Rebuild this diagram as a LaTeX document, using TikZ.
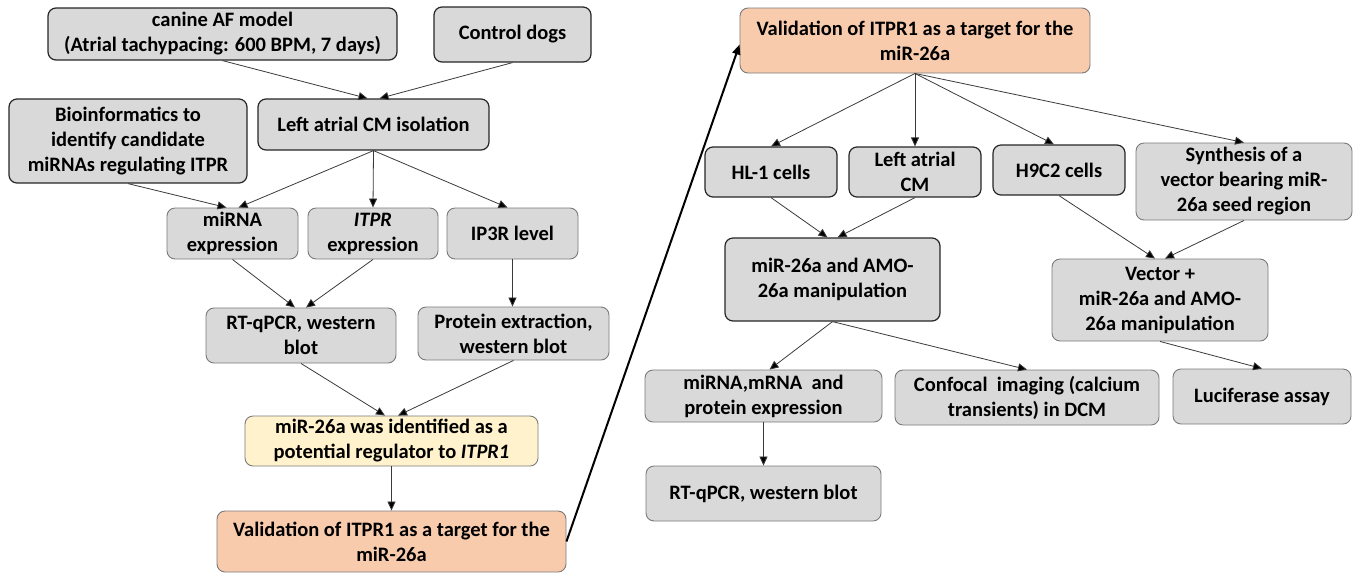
\documentclass[tikz,border=0pt]{standalone}
\usepackage{fontspec}
\setmainfont{Carlito}
\usetikzlibrary{arrows.meta}
\definecolor{boxgray}{HTML}{D9D9D9}
\definecolor{boxyellow}{HTML}{FFF2CC}
\definecolor{boxorange}{HTML}{F8CBAD}
\definecolor{darkedge}{HTML}{262626}
\definecolor{lightedge}{HTML}{7A7A7A}
\definecolor{linecol}{HTML}{3A3A3A}
\tikzset{
  box/.style={draw=lightedge, line width=0.9pt, fill=boxgray, rounded corners=8pt,
    align=center, inner sep=0pt, font=\fontsize{20.5}{25}\selectfont\bfseries},
  darkbox/.style={box, draw=darkedge, line width=1.2pt},
  yellowbox/.style={box, fill=boxyellow},
  orangebox/.style={box, fill=boxorange},
  conn/.style={draw=linecol, line width=0.8pt, -{Triangle[length=9pt,width=8pt,fill=black]}},
  bigconn/.style={draw=black, line width=2pt, -{Triangle[length=10pt,width=8pt]}},
}
\begin{document}
\begin{tikzpicture}[x=1pt,y=1pt]
\useasboundingbox (0,0) rectangle (1362,-574);
% left side
\node[darkbox, minimum width=349pt, minimum height=52pt] (canine) at (222.5,-34) {canine AF model\\(Atrial tachypacing: 600 BPM, 7 days)};
\node[darkbox, minimum width=157pt, minimum height=55pt] (control) at (512.5,-34.5) {Control dogs};
\node[darkbox, minimum width=238pt, minimum height=84pt] (bio) at (128,-141) {Bioinformatics to\\identify candidate\\miRNAs regulating ITPR};
\node[darkbox, minimum width=231pt, minimum height=51pt] (lacm) at (373.5,-124.5) {Left atrial CM isolation};
\node[box, minimum width=131pt, minimum height=51pt] (mirna) at (232.5,-233.5) {miRNA\\expression};
\node[box, minimum width=130pt, minimum height=51pt] (itpr) at (373,-233.5) {\textit{ITPR}\\expression};
\node[box, minimum width=131pt, minimum height=51pt] (ip3r) at (512.5,-233.5) {IP3R level};
\node[box, minimum width=190pt, minimum height=55pt] (rtq) at (301,-335.5) {RT-qPCR, western\\blot};
\node[box, minimum width=191pt, minimum height=53pt] (prot) at (513.5,-333.5) {Protein extraction,\\western blot};
\node[yellowbox, minimum width=293pt, minimum height=50pt] (ident) at (391.5,-441) {miR-26a was identified as a\\potential regulator to \textit{ITPR1}};
\node[orangebox, minimum width=349pt, minimum height=61pt] (valL) at (391.5,-541.5) {Validation of ITPR1 as a target for the\\miR-26a};
% right side
\node[orangebox, minimum width=350pt, minimum height=65pt] (valR) at (915,-40.5) {Validation of ITPR1 as a target for the\\miR-26a};
\node[darkbox, minimum width=132pt, minimum height=50pt] (hl1) at (771,-172) {HL-1 cells};
\node[darkbox, minimum width=132pt, minimum height=50pt] (lacm2) at (915,-172) {Left atrial\\CM};
\node[darkbox, minimum width=132pt, minimum height=50pt] (h9c2) at (1059,-170) {H9C2 cells};
\node[box, minimum width=216pt, minimum height=77pt] (synth) at (1244,-181.5) {Synthesis of a\\vector bearing miR-\\26a seed region};
\node[darkbox, minimum width=215pt, minimum height=83pt] (amo) at (832.5,-279.5) {miR-26a and AMO-\\26a manipulation};
\node[box, minimum width=216pt, minimum height=82pt] (vector) at (1160,-300) {Vector +\\miR-26a and AMO-\\26a manipulation};
\node[box, minimum width=237pt, minimum height=52pt] (mirna2) at (763.5,-396) {miRNA,mRNA\ \ and\\protein expression};
\node[box, minimum width=264pt, minimum height=55pt] (conf) at (1027,-397.5) {Confocal\ \ imaging (calcium\\transients) in DCM};
\node[box, minimum width=178pt, minimum height=55pt] (luc) at (1262,-396.5) {Luciferase assay};
\node[box, minimum width=235pt, minimum height=55pt] (rtq2) at (763.5,-493.5) {RT-qPCR, western blot};
% connectors left
\draw[conn] (canine.south) -- ([xshift=-6pt]lacm.north);
\draw[conn] (control.south) -- ([xshift=6pt]lacm.north);
\draw[conn] (bio.south) -- ([xshift=-6pt]mirna.north);
\draw[conn] (lacm.south) -- ([xshift=6pt]mirna.north);
\draw[conn] (lacm.south) -- (itpr.north);
\draw[conn] (lacm.south) -- ([xshift=-5pt]ip3r.north);
\draw[conn] (mirna.south) -- ([xshift=-6pt]rtq.north);
\draw[conn] (itpr.south) -- ([xshift=5pt]rtq.north);
\draw[conn] (ip3r.south) -- (ip3r.south |- prot.north);
\draw[conn] (rtq.south) -- ([xshift=-6.5pt]ident.north);
\draw[conn] (prot.south) -- ([xshift=6.5pt]ident.north);
\draw[conn] (ident.south) -- (valL.north);
\draw[bigconn] (valL.east) -- ([yshift=-4pt]valR.west);
% connectors right
\draw[conn] (valR.south) -- (hl1.north);
\draw[conn] (valR.south) -- (lacm2.north);
\draw[conn] (valR.south) -- ([xshift=-5pt]h9c2.north);
\draw[conn] (valR.south) -- (synth.north);
\draw[conn] (hl1.south) -- ([xshift=-5pt]amo.north);
\draw[conn] (lacm2.south) -- ([xshift=5pt]amo.north);
\draw[conn] (h9c2.south) -- ([xshift=-5pt]vector.north);
\draw[conn] (synth.south) -- ([xshift=5pt]vector.north);
\draw[conn] (amo.south) -- ([xshift=6pt]mirna2.north);
\draw[conn] (amo.south) -- (conf.north);
\draw[conn] (vector.south) -- (luc.north);
\draw[conn] (mirna2.south) -- (rtq2.north);
\end{tikzpicture}
\end{document}
